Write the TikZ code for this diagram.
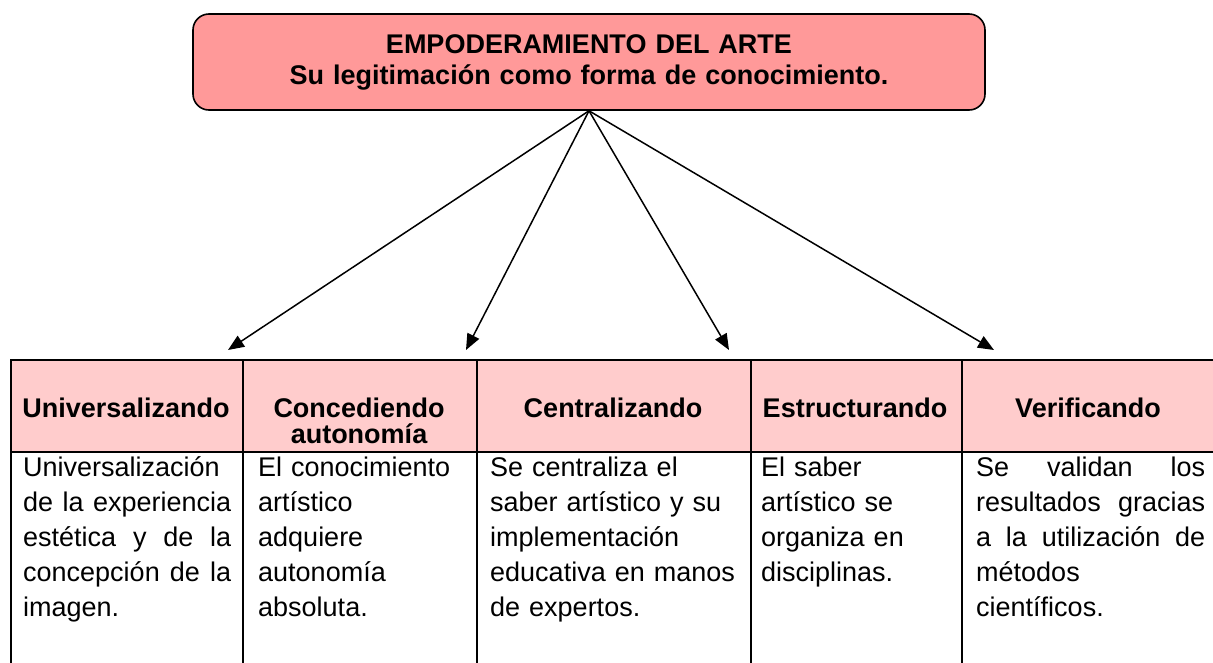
\documentclass[tikz,border=0pt]{standalone}
\usepackage{fontspec}
\setmainfont{Liberation Sans}
\usetikzlibrary{arrows.meta}
\definecolor{titlepink}{HTML}{FF9999}
\definecolor{headpink}{HTML}{FFCCCC}
\hyphenpenalty=10000
\tolerance=9999

\begin{document}
\begin{tikzpicture}[x=1pt, y=-1pt, >={Triangle[length=16pt,width=13pt]},
    font=\fontsize{27}{35}\selectfont]
    \tikzstyle{cell}=[draw=black, line width=2pt, rectangle, anchor=north west, inner sep=0pt]
    \tikzstyle{head cell}=[cell, fill=headpink, minimum height=92pt]
    \tikzstyle{body cell}=[cell, fill=white, minimum height=260pt]
    \tikzstyle{head text}=[anchor=base, inner sep=0pt, text width=228pt, align=center, font=\bfseries\fontsize{27}{26}\selectfont]
    \tikzstyle{body text}=[anchor=base west, inner sep=0pt]
    \tikzstyle{link}=[->, line width=1.5pt]

    \useasboundingbox (0,0) rectangle (1213,662);
    \clip (0,0) rectangle (1213,662);

% Title
    \node[draw, line width=1.6pt, rounded corners=16pt, fill=titlepink,
          minimum width=792pt, minimum height=96pt, text width=780pt, align=center,
          font=\bfseries\fontsize{27}{31}\selectfont] (arte) at (589,62)
          {EMPODERAMIENTO DEL ARTE\\Su legitimación como forma de conocimiento.};

% Table
    % Cells
    \foreach \name / \xl / \xr in {1/10/242, 2/242/476, 3/476/750, 4/750/961, 5/961/1216} {
        \node[head cell, minimum width=\xr-\xl] (H-\name) at (\xl,359) {};
        \node[body cell, minimum width=\xr-\xl] (B-\name) at (\xl,451) {};
    }

    % Header labels
    \foreach \name / \x / \label in {1/126/Universalizando, 2/359/{Concediendo\\autonomía},
                                     3/613/Centralizando, 4/855/Estructurando, 5/1088/Verificando}
        \node[head text] (L-\name) at (\x,417) {\label};

    % Cell texts
    \node[body text, text width=208pt, align=justify] (T-1) at (23,476)
        {Universalización\newline de la experiencia\linebreak estética y de la\linebreak
         concepción de la\linebreak imagen.};
    \node[body text, text width=215pt, align=left] (T-2) at (258,476)
        {El conocimiento\\ artístico\\ adquiere\\ autonomía\\ absoluta.};
    \node[body text, text width=255pt, align=left] (T-3) at (490,476)
        {Se centraliza el\\ saber artístico y su\\ implementación\\ educativa en manos\\ de expertos.};
    \node[body text, text width=195pt, align=left] (T-4) at (761,476)
        {El saber\\ artístico se\\ organiza en\\ disciplinas.};
    \node[body text, text width=229pt, align=justify] (T-5) at (976,476)
        {Se validan los\linebreak resultados gracias\linebreak a la utilización de\linebreak
         métodos\newline científicos.};

% Arrows
    \foreach \name / \x in {1/228, 2/466, 3/729, 4/994}
        \coordinate (P-\name) at (\x,350);
    \foreach \name in {1,...,4}
        \draw[link] (arte.south) -- (P-\name);

\end{tikzpicture}
\end{document}
